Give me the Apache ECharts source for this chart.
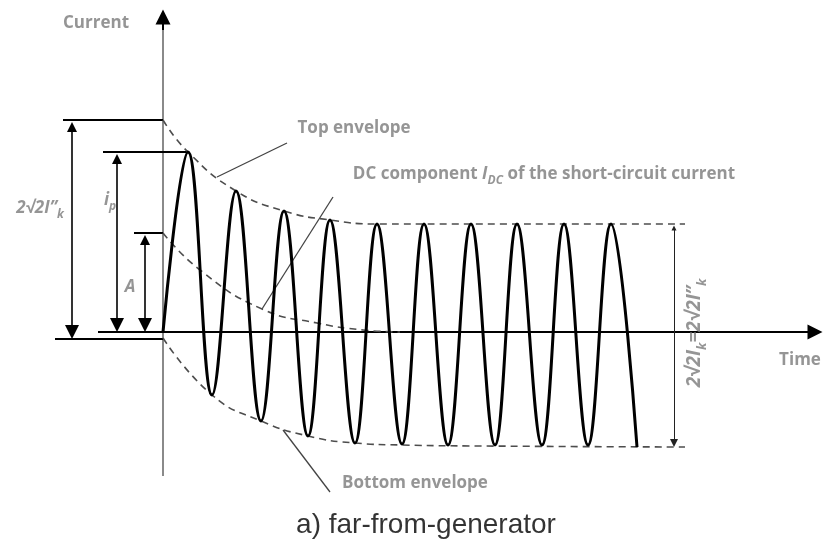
<!DOCTYPE html>
<html>
<head>
<meta charset="utf-8">
<script src="https://cdn.jsdelivr.net/npm/echarts@6/dist/echarts.min.js"></script>
<style>
  html, body { margin: 0; padding: 0; background: #fff; }
  #chart { width: 823px; height: 541px; }
</style>
</head>
<body>
<div id="chart"></div>
<script>
// all values, in picture pixels (y grows downward)
const wavePoints = [
  [163, 332], [188, 152], [212, 395], [236, 191], [261, 421], [284, 211],
  [308, 436], [330, 220], [355, 443], [377, 224], [402, 444], [424, 224],
  [448, 445], [471, 224], [495, 445], [517, 224], [542, 445], [564, 224],
  [588, 445], [611, 224], [637, 447]
];
const topEnvelope = [[163, 120], [188, 152], [236, 191], [284, 211], [330, 220], [377, 224], [450, 224], [685, 224]];
const bottomEnvelope = [[163, 338], [212, 395], [261, 421], [308, 436], [355, 443], [402, 445], [480, 446], [685, 447]];
const dcComponent = [[163, 233], [200, 270], [262, 309], [317, 323], [363, 330], [400, 332]];

// dimension arrows, arrow-head centres at both ends
const dimArrows = [
  [[72, 127], [72, 332]],
  [[117, 159], [117, 325]],
  [[145, 240], [145, 325]]
];
const rightDim = [[674, 228], [674, 443]];
// reference ticks at the left
const refLines = [
  [[63, 120], [163, 120]],
  [[103, 152], [188, 152]],
  [[134, 233], [163, 233]],
  [[55, 339], [163, 339]]
];
// leader lines from the labels
const leaders = [
  [[287, 143], [217, 177]],
  [[333, 197], [262, 309]],
  [[283, 430], [330, 492]]
];
const timeAxis = [[98, 332], [815, 332]];
const currentAxis = [[163, 476], [163, 22]];
const currentArrow = [[163, 30], [163, 17]];

const gray = '#7a7a7a';
const fontBold = { fontFamily: 'Open Sans', fontWeight: 'bold', color: gray };

const labels = [
  { pos: [96, 23], text: 'Current', size: 17 },
  { pos: [354, 128], text: 'Top envelope', size: 17 },
  { pos: [544, 174], text: 'DC component {it|I}{sub|DC} of the short-circuit current', size: 17 },
  { pos: [415, 483], text: 'Bottom envelope', size: 17 },
  { pos: [800, 360], text: 'Time', size: 17 },
  { pos: [40, 208], text: '{it|2√2I”}{sub|k}', size: 17 },
  { pos: [110, 200], text: '{it|i}{sub|p}', size: 17 },
  { pos: [130, 287], text: '{it|A}', size: 17 },
  { pos: [695, 333], text: '{itL|2√2I}{subL|k}{itL|=2√2I”}{subL|k}', size: 19, rotate: 90 }
];

const rich = {
  it: { fontFamily: 'Open Sans', fontWeight: 'bold', fontStyle: 'italic', color: gray, fontSize: 17, lineHeight: 26 },
  sub: { fontFamily: 'Open Sans', fontWeight: 'bold', fontStyle: 'italic', color: gray, fontSize: 12, lineHeight: 13, verticalAlign: 'bottom' },
  itL: { fontFamily: 'Open Sans', fontWeight: 'bold', fontStyle: 'italic', color: gray, fontSize: 19, lineHeight: 28 },
  subL: { fontFamily: 'Open Sans', fontWeight: 'bold', fontStyle: 'italic', color: gray, fontSize: 13, lineHeight: 14, verticalAlign: 'bottom' }
};

const chart = echarts.init(document.getElementById('chart'));

const option = {
  animation: false,
  backgroundColor: '#fff',
  grid: { left: 0, right: 0, top: 0, bottom: 0 },
  xAxis: { type: 'value', min: 0, max: 823, show: false },
  yAxis: { type: 'value', min: 0, max: 541, inverse: true, show: false },
  series: [
    {
      name: 'axisCurrent',
      type: 'lines',
      coordinateSystem: 'cartesian2d',
      symbol: 'none',
      lineStyle: { color: '#8a8a8a', width: 2, opacity: 1 },
      data: [{ coords: currentAxis }]
    },
    {
      name: 'axisArrows',
      type: 'lines',
      coordinateSystem: 'cartesian2d',
      symbol: ['none', 'triangle'],
      symbolSize: [11, 15],
      lineStyle: { color: '#000', width: 2, opacity: 1 },
      data: [{ coords: currentArrow }, { coords: timeAxis }]
    },
    {
      name: 'refLines',
      type: 'lines',
      coordinateSystem: 'cartesian2d',
      symbol: 'none',
      lineStyle: { color: '#000', width: 2, opacity: 1 },
      data: refLines.map(c => ({ coords: c }))
    },
    {
      name: 'dims',
      type: 'lines',
      coordinateSystem: 'cartesian2d',
      symbol: ['triangle', 'triangle'],
      symbolSize: [10, 14],
      lineStyle: { color: '#000', width: 1.6, opacity: 1 },
      data: dimArrows.map(c => ({ coords: c }))
    },
    {
      name: 'rightDim',
      type: 'lines',
      coordinateSystem: 'cartesian2d',
      symbol: ['triangle', 'triangle'],
      symbolSize: [5, 8],
      lineStyle: { color: '#222', width: 1, opacity: 1 },
      data: [{ coords: rightDim }]
    },
    {
      name: 'leaders',
      type: 'lines',
      coordinateSystem: 'cartesian2d',
      symbol: 'none',
      lineStyle: { color: '#444', width: 1.3, opacity: 1 },
      data: leaders.map(c => ({ coords: c }))
    },
    {
      name: 'topEnvelope',
      type: 'line',
      data: topEnvelope,
      smooth: 0.5,
      symbol: 'none',
      lineStyle: { color: '#4d4d4d', width: 1.6, type: [7, 5] }
    },
    {
      name: 'bottomEnvelope',
      type: 'line',
      data: bottomEnvelope,
      smooth: 0.5,
      symbol: 'none',
      lineStyle: { color: '#4d4d4d', width: 1.6, type: [7, 5] }
    },
    {
      name: 'dcComponent',
      type: 'line',
      data: dcComponent,
      smooth: 0.5,
      symbol: 'none',
      lineStyle: { color: '#4d4d4d', width: 1.6, type: [7, 5] }
    },
    {
      name: 'current',
      type: 'line',
      data: wavePoints,
      smooth: 0.4,
      symbol: 'none',
      lineStyle: { color: '#000', width: 3 }
    },
    {
      name: 'labels',
      type: 'scatter',
      symbolSize: 0,
      silent: true,
      data: labels.map(l => ({
        value: l.pos,
        label: {
          show: true,
          position: 'inside',
          formatter: l.text,
          rotate: l.rotate || 0,
          fontSize: l.size,
          ...fontBold,
          rich: rich
        }
      })).concat([{
        value: [426, 525],
        label: {
          show: true,
          position: 'inside',
          formatter: 'a) far-from-generator',
          fontFamily: 'Liberation Sans',
          fontSize: 28,
          color: '#000'
        }
      }])
    }
  ]
};

chart.setOption(option);
</script>
</body>
</html>
